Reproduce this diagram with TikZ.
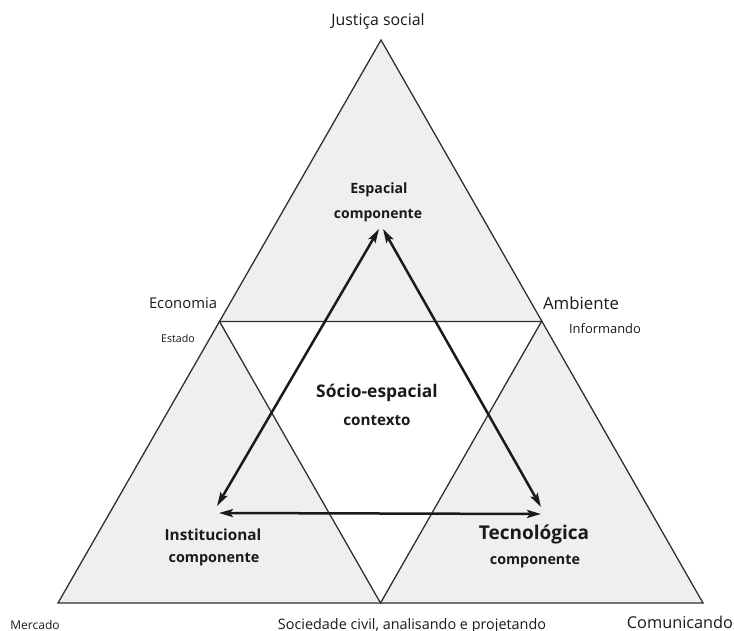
\documentclass[tikz,border=0pt]{standalone}
\usepackage{fontspec}
\setmainfont{Open Sans}
\usetikzlibrary{arrows.meta}
\definecolor{panel}{HTML}{EFEFEF}
\definecolor{edge}{HTML}{303030}
\definecolor{ink}{HTML}{1A1A1A}
\tikzset{
  label/.style={text=ink, inner sep=0pt, anchor=center},
  boldlabel/.style={label, font=\bfseries},
  frame/.style={draw=edge, line width=1.3pt, line join=miter},
  link/.style={draw=ink, line width=2.5pt,
    {Stealth[length=14pt,width=8pt,inset=3pt]}-{Stealth[length=14pt,width=8pt,inset=3pt]}}
}
\begin{document}
\begin{tikzpicture}[x=1pt,y=-1pt]
  \useasboundingbox (0,0) rectangle (734,631);

  % outer triangle and its mid-points
  \coordinate (top) at (381,40);
  \coordinate (bl) at (58,603);
  \coordinate (br) at (703,603);
  \coordinate (ml) at (219.5,321.5);
  \coordinate (mr) at (541.5,321.5);
  \coordinate (mb) at (380.5,603);

  \fill[panel] (top) -- (bl) -- (br) -- cycle;
  \fill[white] (ml) -- (mr) -- (mb) -- cycle;
  \draw[frame] (top) -- (bl) -- (br) -- cycle;
  \draw[frame] (ml) -- (mr) -- (mb) -- cycle;

  % ends of the double arrows
  \coordinate (sA) at (379,229);
  \coordinate (sB) at (383,229);
  \coordinate (iA) at (217,506);
  \coordinate (iB) at (219,513);
  \coordinate (tA) at (541,507);
  \coordinate (tB) at (541,514);

  \draw[link] (iA) -- (sA);
  \draw[link] (sB) -- (tA);
  \draw[link] (iB) -- (tB);

  % component labels
  \node[boldlabel, font=\bfseries\fontsize{14.2}{16}\selectfont] (esp) at (379,190) {Espacial};
  \node[boldlabel, font=\bfseries\fontsize{14}{16}\selectfont] (espc) at (378,216) {componente};
  \node[boldlabel, font=\bfseries\fontsize{17.4}{20}\selectfont] (soc) at (377,393) {Sócio-espacial};
  \node[boldlabel, font=\bfseries\fontsize{15.2}{17}\selectfont] (socc) at (377,421) {contexto};
  \node[boldlabel, font=\bfseries\fontsize{15.3}{17}\selectfont] (inst) at (213,535) {Institucional};
  \node[boldlabel, font=\bfseries\fontsize{14.4}{16}\selectfont] (instc) at (214,559) {componente};
  \node[boldlabel, font=\bfseries\fontsize{19}{22}\selectfont] (tec) at (534,535) {Tecnológica};
  \node[boldlabel, font=\bfseries\fontsize{14.3}{16}\selectfont] (tecc) at (535,561) {componente};

  % corner and edge labels
  \node[label, font=\fontsize{15.9}{18}\selectfont] (just) at (378,21) {Justiça social};
  \node[label, font=\fontsize{14.8}{17}\selectfont] (eco) at (183,303) {Economia};
  \node[label, font=\fontsize{10.7}{12}\selectfont] (est) at (178,338) {Estado};
  \node[label, font=\fontsize{16.8}{19}\selectfont] (amb) at (581,303) {Ambiente};
  \node[label, font=\fontsize{12.9}{15}\selectfont] (inf) at (605,329) {Informando};
  \node[label, font=\fontsize{12}{14}\selectfont] (mer) at (35,625) {Mercado};
  \node[label, font=\fontsize{14.4}{17}\selectfont] (soccivil) at (412,626) {Sociedade civil, analisando e projetando};
  \node[label, font=\fontsize{16.3}{19}\selectfont] (com) at (680,622) {Comunicando};
\end{tikzpicture}
\end{document}
